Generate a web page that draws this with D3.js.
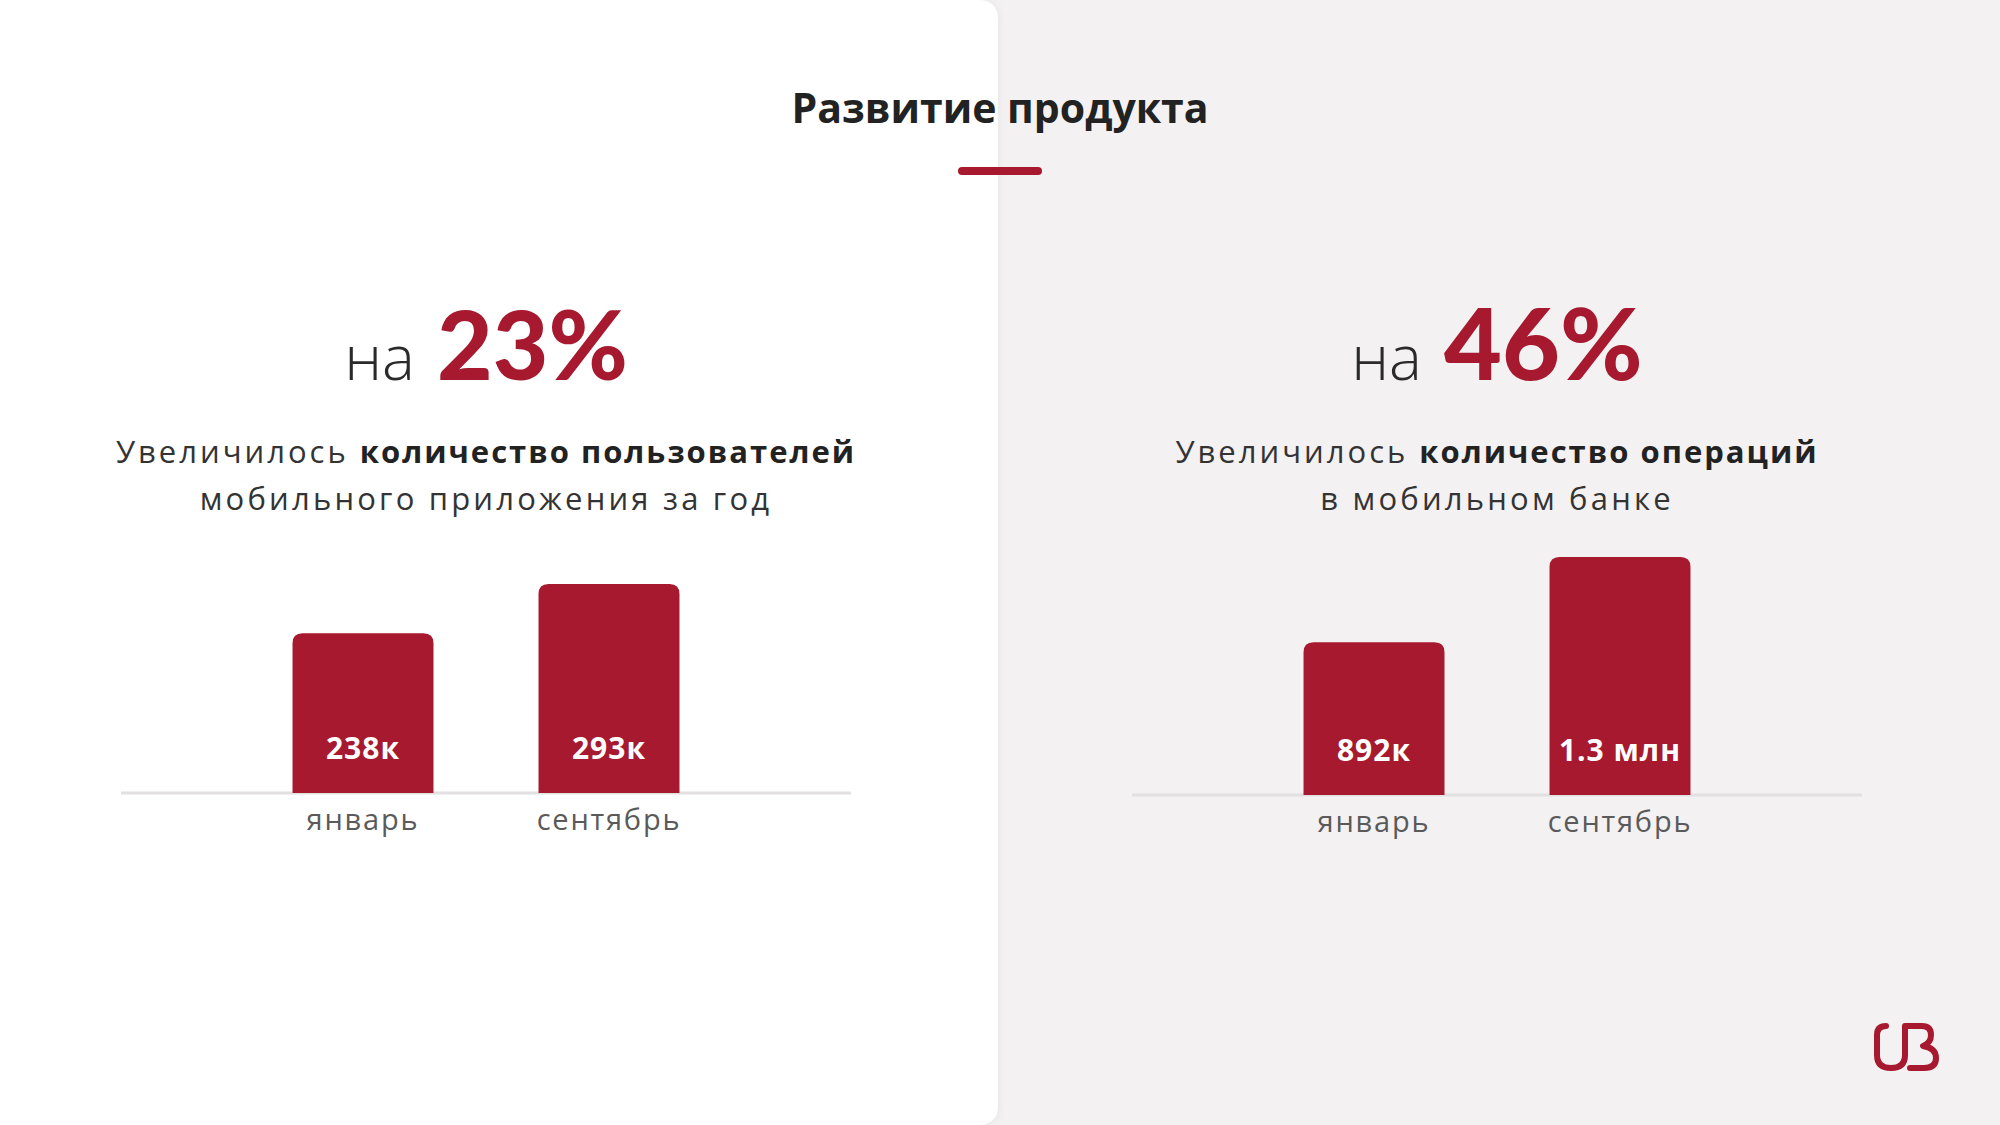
<!DOCTYPE html>
<html>
<head>
<meta charset="utf-8">
<script src="https://cdn.jsdelivr.net/npm/d3@7"></script>
<style>
  html, body { margin: 0; padding: 0; background: #f3f1f2; }
  svg { display: block; }
</style>
</head>
<body>
<svg id="chart" width="2000" height="1125"></svg>
<script>
// ---- data ----
const title = "Развитие продукта";
const categories = ["январь", "сентябрь"];
const usersValues = [238, 293];          // thousands
const usersLabels = ["238к", "293к"];
const opsValues = [892, 1300];           // thousands
const opsLabels = ["892к", "1.3 млн"];
const usersGrowth = "23%";
const opsGrowth = "46%";
const usersTextRegular = "Увеличилось ";
const usersTextBold = "количество пользователей";
const usersTextLine2 = "мобильного приложения за год";
const opsTextRegular = "Увеличилось ";
const opsTextBold = "количество операций";
const opsTextLine2 = "в мобильном банке";

// ---- styles ----
const RED = "#a6192e";
const FONT = "'Open Sans', 'Noto Sans', sans-serif";
const FONT_NUM = "Lato, 'Open Sans', sans-serif";

const svg = d3.select("#chart");
const defs = svg.append("defs");
const f = defs.append("filter").attr("id", "sh").attr("x", "-5%").attr("y", "-5%").attr("width", "110%").attr("height", "110%");
f.append("feDropShadow").attr("dx", 0).attr("dy", 0).attr("stdDeviation", 4).attr("flood-color", "#000").attr("flood-opacity", 0.06);

// backgrounds
svg.append("rect").attr("x", 0).attr("y", 0).attr("width", 2000).attr("height", 1125).attr("fill", "#f3f1f2");
svg.append("path")
  .attr("d", "M-20,0 H978 Q998,0 998,20 V1105 Q998,1125 978,1125 H-20 Z")
  .attr("fill", "#ffffff").attr("filter", "url(#sh)");

// title
svg.append("text").attr("x", 1000).attr("y", 123).attr("text-anchor", "middle")
  .attr("font-family", FONT).attr("font-weight", 700).attr("font-size", 41)
  .attr("fill", "#222222").text(title);
svg.append("line").attr("x1", 962).attr("x2", 1038).attr("y1", 171).attr("y2", 171)
  .attr("stroke", RED).attr("stroke-width", 8).attr("stroke-linecap", "round");

function panel(cx, baseY, yTopPx, values, labels, growth, reg, bold, line2, yDomainStart, pctSize) {
  const g = svg.append("g");
  // headline
  const h = g.append("text").attr("x", cx).attr("y", 380).attr("text-anchor", "middle");
  h.append("tspan").attr("font-family", FONT).attr("font-size", 62).attr("font-weight", 300)
    .attr("fill", "#2a2a2a").text("на ");
  h.append("tspan").attr("dx", 6).attr("font-family", FONT_NUM).attr("font-size", pctSize).attr("font-weight", 900)
    .attr("fill", RED).text(growth);

  // subtitle
  const s1 = g.append("text").attr("x", cx).attr("y", 463).attr("text-anchor", "middle")
    .attr("font-family", FONT).attr("font-size", 31).attr("fill", "#333333");
  s1.append("tspan").attr("font-weight", 400).attr("letter-spacing", 3).text(reg);
  s1.append("tspan").attr("font-weight", 700).attr("letter-spacing", 2).attr("fill", "#222222").text(bold);
  g.append("text").attr("x", cx).attr("y", 510).attr("text-anchor", "middle")
    .attr("font-family", FONT).attr("font-size", 31).attr("letter-spacing", 3.2)
    .attr("font-weight", 400).attr("fill", "#333333")
    .text(line2);

  // scales
  const x = d3.scaleBand().domain(categories).range([cx - 246, cx + 246])
    .paddingInner(0.427).paddingOuter(0.2135);
  const y = d3.scaleLinear().domain([yDomainStart, d3.max(values)]).range([baseY, yTopPx]);

  // baseline
  g.append("line").attr("x1", cx - 365).attr("x2", cx + 365).attr("y1", baseY).attr("y2", baseY)
    .attr("stroke", "#e2e0e1").attr("stroke-width", 3);

  const r = 10;
  g.selectAll("path.bar").data(values).join("path").attr("class", "bar")
    .attr("fill", RED)
    .attr("d", (d, i) => {
      const x0 = x(categories[i]), w = x.bandwidth(), y0 = y(d);
      return `M${x0},${baseY} V${y0 + r} Q${x0},${y0} ${x0 + r},${y0} H${x0 + w - r} Q${x0 + w},${y0} ${x0 + w},${y0 + r} V${baseY} Z`;
    });

  g.selectAll("text.val").data(labels).join("text").attr("class", "val")
    .attr("x", (d, i) => x(categories[i]) + x.bandwidth() / 2)
    .attr("y", baseY - 34)
    .attr("text-anchor", "middle").attr("font-family", FONT).attr("font-weight", 700)
    .attr("font-size", 30).attr("letter-spacing", 1).attr("fill", "#ffffff").text(d => d);

  g.selectAll("text.cat").data(categories).join("text").attr("class", "cat")
    .attr("x", d => x(d) + x.bandwidth() / 2)
    .attr("y", baseY + 37)
    .attr("text-anchor", "middle").attr("font-family", FONT).attr("font-weight", 400)
    .attr("font-size", 29).attr("letter-spacing", 1.8).attr("fill", "#5a5a5a").text(d => d);
}

panel(486, 793, 584, usersValues, usersLabels, usersGrowth, usersTextRegular, usersTextBold, usersTextLine2, 60, 96);
panel(1497, 795, 557, opsValues, opsLabels, opsGrowth, opsTextRegular, opsTextBold, opsTextLine2, 160, 100);

// logo
svg.append("path")
  .attr("d", "M1886,1026 Q1877,1026 1877,1035 L1877,1055 Q1877,1068 1891,1068 Q1905,1068 1905,1055 L1905,1026 L1922,1026 Q1931,1026 1931,1035 Q1931,1043 1923,1046 Q1936,1048 1936,1058 Q1936,1068 1924,1068 L1910,1068")
  .attr("fill", "none").attr("stroke", RED).attr("stroke-width", 6)
  .attr("stroke-linecap", "round").attr("stroke-linejoin", "round");
</script>
</body>
</html>
